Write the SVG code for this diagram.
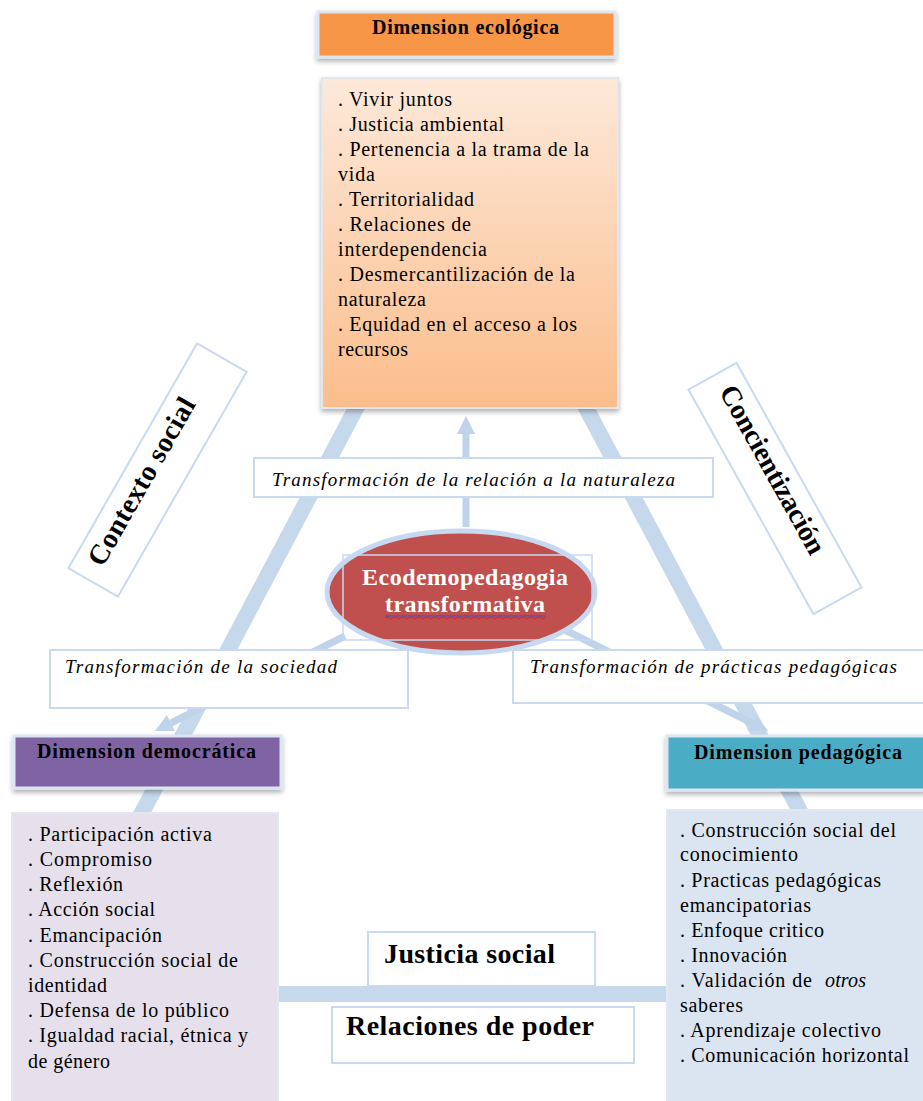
<svg xmlns="http://www.w3.org/2000/svg" width="923" height="1101" viewBox="0 0 923 1101">
<defs>
<style>
.t{font-family:"Liberation Serif","Times New Roman",serif;fill:#000;}
.body{font-size:20px;}
.hdr{font-size:20px;font-weight:bold;}
.lab{font-size:19px;font-style:italic;}
.big{font-size:28px;font-weight:bold;}
.ell{font-size:24px;font-weight:bold;fill:#fff;}
.lbox{fill:#fff;stroke:#c9daf0;stroke-width:2;}
.conn{fill:none;stroke:#bfd3ea;stroke-width:7;}
.tri{fill:none;stroke:#c6d9ec;stroke-width:16;stroke-linejoin:miter;}
.hbox{stroke:#dce6f2;stroke-width:3;}
.cbox{stroke:#e3e8ef;stroke-width:2;}
</style>
<linearGradient id="gOr" x1="0" y1="0" x2="0" y2="1"><stop offset="0" stop-color="#fde9da"/><stop offset="1" stop-color="#fbbd8b"/></linearGradient>
<filter id="sh" x="-10%" y="-10%" width="120%" height="130%"><feDropShadow dx="0" dy="3" stdDeviation="2.5" flood-color="#000" flood-opacity="0.3"/></filter>
<marker id="ah" markerUnits="userSpaceOnUse" markerWidth="18" markerHeight="18" viewBox="0 0 18 18" refX="0" refY="9" orient="auto"><path d="M0,0 L18,9 L0,18 z" fill="#bfd3ea"/></marker>
</defs>
<rect width="923" height="1101" fill="#fff"/>

<g id="frame">
<polygon class="tri" points="471,191 46,994 897,994"/>
</g>

<g id="connectors">
<path class="conn" d="M466,527 L466,434" marker-end="url(#ah)"/>
<path class="conn" d="M345,636 L171,723" marker-end="url(#ah)"/>
<path class="conn" d="M565,630 L752,723" marker-end="url(#ah)"/>
</g>

<g id="dim-ecologica">
<rect class="hbox" x="318" y="12" width="297" height="45" fill="#f79646" filter="url(#sh)"/>
<text class="t hdr" x="372" y="34" textLength="187" lengthAdjust="spacing">Dimension ecológica</text>
</g>

<g id="eco-items">
<rect class="cbox" x="322" y="78" width="296" height="330" fill="url(#gOr)" filter="url(#sh)"/>
<text class="t body" x="338" y="106" textLength="114" lengthAdjust="spacing">. Vivir juntos</text>
<text class="t body" x="338" y="131" textLength="166" lengthAdjust="spacing">. Justicia ambiental</text>
<text class="t body" x="338" y="156" textLength="251" lengthAdjust="spacing">. Pertenencia a la trama de la</text>
<text class="t body" x="338" y="181" textLength="37" lengthAdjust="spacing">vida</text>
<text class="t body" x="338" y="206" textLength="136" lengthAdjust="spacing">. Territorialidad</text>
<text class="t body" x="338" y="231" textLength="133" lengthAdjust="spacing">. Relaciones de</text>
<text class="t body" x="338" y="256" textLength="149" lengthAdjust="spacing">interdependencia</text>
<text class="t body" x="338" y="281" textLength="237" lengthAdjust="spacing">. Desmercantilización de la</text>
<text class="t body" x="338" y="306" textLength="88" lengthAdjust="spacing">naturaleza</text>
<text class="t body" x="338" y="331" textLength="239" lengthAdjust="spacing">. Equidad en el acceso a los</text>
<text class="t body" x="338" y="356" textLength="70" lengthAdjust="spacing">recursos</text>
</g>

<g id="contexto-social" transform="translate(157.5,470) rotate(-60.2)">
<rect x="-129.5" y="-28.5" width="259" height="57" fill="#fff" stroke="#c9daf0" stroke-width="2"/>
<text class="t big" x="-18" y="1" text-anchor="middle" textLength="189" lengthAdjust="spacing">Contexto social</text>
</g>

<g id="concientizacion" transform="translate(775,488.5) rotate(60.9)">
<rect x="-128.5" y="-27.5" width="257" height="55" fill="#fff" stroke="#c9daf0" stroke-width="2"/>
<text class="t big" x="-17.6" y="2" text-anchor="middle" textLength="189" lengthAdjust="spacing">Concientización</text>
</g>

<g id="label-naturaleza">
<rect class="lbox" x="254" y="458" width="459" height="39"/>
<text class="t lab" x="272" y="486" textLength="403" lengthAdjust="spacing">Transformación de la relación a la naturaleza</text>
</g>

<g id="ecodemopedagogia">
<ellipse cx="461" cy="592" rx="134" ry="61" fill="#c0504d" stroke="#c6d9f1" stroke-width="5"/>
<rect x="343" y="555" width="249" height="85" fill="none" stroke="#c6d9f1" stroke-width="1.5"/>
<text class="t ell" x="362" y="585" textLength="206" lengthAdjust="spacing">Ecodemopedagogia</text>
<text class="t ell" x="385" y="612" textLength="160" lengthAdjust="spacing">transformativa</text>
<path d="M385,616 L546,616" stroke="#3050d0" stroke-width="1" fill="none"/>
<path d="M385,618 q2,-2 4,0 t4,0 t4,0 t4,0 t4,0 t4,0 t4,0 t4,0 t4,0 t4,0 t4,0 t4,0 t4,0 t4,0 t4,0 t4,0 t4,0 t4,0 t4,0 t4,0 t4,0 t4,0 t4,0 t4,0 t4,0 t4,0 t4,0 t4,0 t4,0 t4,0 t4,0 t4,0 t4,0 t4,0 t4,0 t4,0 t4,0 t4,0 t4,0 t4,0" stroke="#e02020" stroke-width="1" fill="none"/>
</g>

<g id="label-sociedad">
<rect class="lbox" x="50" y="650" width="358" height="58"/>
<text class="t lab" x="65" y="673" textLength="272" lengthAdjust="spacing">Transformación de la sociedad</text>
</g>

<g id="label-practicas">
<rect class="lbox" x="513" y="650" width="412" height="53"/>
<text class="t lab" x="530" y="673" textLength="367" lengthAdjust="spacing">Transformación de prácticas pedagógicas</text>
</g>

<g id="dim-democratica">
<rect class="hbox" x="14" y="736" width="267" height="52" fill="#8064a2" filter="url(#sh)"/>
<text class="t hdr" x="37" y="758" textLength="219" lengthAdjust="spacing">Dimension democrática</text>
</g>

<g id="dim-pedagogica">
<rect class="hbox" x="667" y="736" width="258" height="54" fill="#4bacc6" filter="url(#sh)"/>
<text class="t hdr" x="694" y="759" textLength="208" lengthAdjust="spacing">Dimension pedagógica</text>
</g>

<g id="demo-items">
<rect class="cbox" x="12" y="813" width="266" height="300" fill="#e5e0ec"/>
<text class="t body" x="28" y="841" textLength="184" lengthAdjust="spacing">. Participación activa</text>
<text class="t body" x="28" y="866" textLength="124" lengthAdjust="spacing">. Compromiso</text>
<text class="t body" x="28" y="891" textLength="95" lengthAdjust="spacing">. Reflexión</text>
<text class="t body" x="28" y="916" textLength="127" lengthAdjust="spacing">. Acción social</text>
<text class="t body" x="28" y="942" textLength="134" lengthAdjust="spacing">. Emancipación</text>
<text class="t body" x="28" y="967" textLength="210" lengthAdjust="spacing">. Construcción social de</text>
<text class="t body" x="28" y="992" textLength="79" lengthAdjust="spacing">identidad</text>
<text class="t body" x="28" y="1017" textLength="201" lengthAdjust="spacing">. Defensa de lo público</text>
<text class="t body" x="28" y="1042" textLength="220" lengthAdjust="spacing">. Igualdad racial, étnica y</text>
<text class="t body" x="28" y="1068" textLength="82" lengthAdjust="spacing">de género</text>
</g>

<g id="peda-items">
<rect class="cbox" x="667" y="810" width="260" height="300" fill="#dbe5f1"/>
<text class="t body" x="680" y="837" textLength="216" lengthAdjust="spacing">. Construcción social del</text>
<text class="t body" x="680" y="861" textLength="118" lengthAdjust="spacing">conocimiento</text>
<text class="t body" x="680" y="887" textLength="201" lengthAdjust="spacing">. Practicas pedagógicas</text>
<text class="t body" x="680" y="912" textLength="131" lengthAdjust="spacing">emancipatorias</text>
<text class="t body" x="680" y="937" textLength="144" lengthAdjust="spacing">. Enfoque critico</text>
<text class="t body" x="680" y="962" textLength="107" lengthAdjust="spacing">. Innovación</text>
<text class="t body" x="680" y="987" textLength="132" lengthAdjust="spacing">. Validación de</text>
<text class="t body" x="825" y="987" font-style="italic" textLength="41" lengthAdjust="spacing">otros</text>
<text class="t body" x="680" y="1012" textLength="63" lengthAdjust="spacing">saberes</text>
<text class="t body" x="680" y="1037" textLength="201" lengthAdjust="spacing">. Aprendizaje colectivo</text>
<text class="t body" x="680" y="1062" textLength="229" lengthAdjust="spacing">. Comunicación horizontal</text>
</g>

<g id="justicia-social">
<rect class="lbox" x="368" y="932" width="227" height="54"/>
<text class="t big" x="384" y="963" textLength="171" lengthAdjust="spacing">Justicia social</text>
</g>

<g id="relaciones-poder">
<rect class="lbox" x="332" y="1007" width="302" height="56"/>
<text class="t big" x="346" y="1035" textLength="248" lengthAdjust="spacing">Relaciones de poder</text>
</g>
</svg>
